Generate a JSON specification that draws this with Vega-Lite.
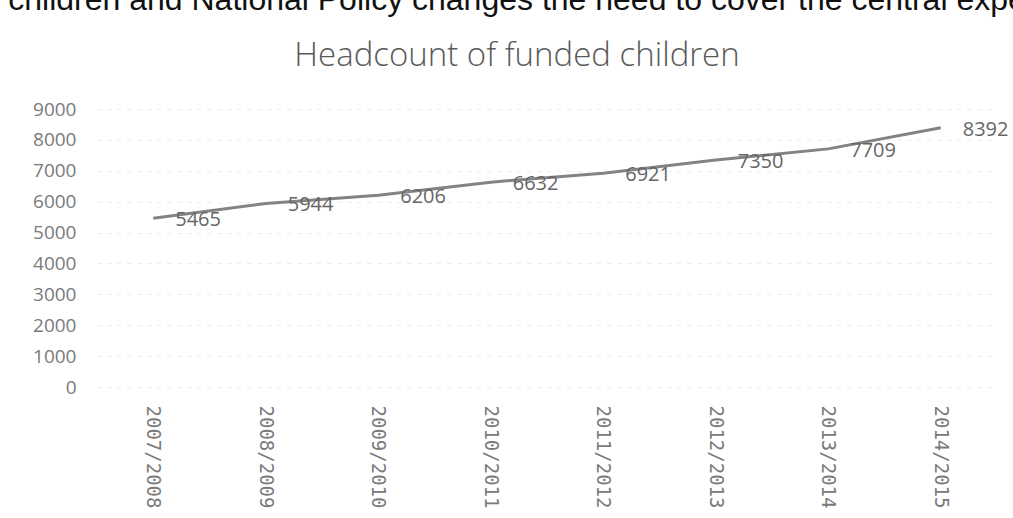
{
  "$schema": "https://vega.github.io/schema/vega-lite/v6.json",
  "width": 900,
  "height": 278,
  "autosize": {"type": "none"},
  "padding": {"left": 97, "top": 109, "right": 16, "bottom": 131},
  "background": "white",
  "title": {
    "text": "children and National Policy changes the need to cover the central expe",
    "subtitle": "Headcount of funded children",
    "anchor": "middle",
    "frame": "group",
    "dx": -30,
    "offset": 26,
    "font": "Liberation Sans",
    "fontSize": 32,
    "fontWeight": "normal",
    "color": "#111111",
    "subtitleFont": "Open Sans",
    "subtitleFontSize": 33,
    "subtitleFontWeight": 300,
    "subtitleColor": "#5a5a5a",
    "subtitlePadding": 23
  },
  "data": {
    "values": [
      {"year": "2007/2008", "count": 5465},
      {"year": "2008/2009", "count": 5944},
      {"year": "2009/2010", "count": 6206},
      {"year": "2010/2011", "count": 6632},
      {"year": "2011/2012", "count": 6921},
      {"year": "2012/2013", "count": 7350},
      {"year": "2013/2014", "count": 7709},
      {"year": "2014/2015", "count": 8392}
    ]
  },
  "config": {
    "view": {"stroke": null},
    "axis": {"domain": false, "ticks": false}
  },
  "encoding": {
    "x": {
      "field": "year",
      "type": "ordinal",
      "scale": {"type": "band", "paddingInner": 0, "paddingOuter": 0},
      "axis": {
        "title": null,
        "labelAngle": 90,
        "labelAlign": "left",
        "labelBaseline": "middle",
        "labelPadding": 18,
        "labelFont": "DejaVu Sans Mono",
        "labelFontSize": 19,
        "labelColor": "#7a7a7a",
        "grid": false
      }
    },
    "y": {
      "field": "count",
      "type": "quantitative",
      "scale": {"domain": [0, 9000], "nice": false},
      "axis": {
        "title": null,
        "values": [0, 1000, 2000, 3000, 4000, 5000, 6000, 7000, 8000, 9000],
        "format": "d",
        "labelPadding": 21,
        "labelFont": "Open Sans",
        "labelFontSize": 19,
        "labelColor": "#7a7a7a",
        "grid": true,
        "gridColor": "#ededed",
        "gridDash": [4, 6],
        "gridWidth": 1
      }
    }
  },
  "layer": [
    {
      "mark": {"type": "line", "color": "#838383", "strokeWidth": 3}
    },
    {
      "mark": {
        "type": "text",
        "align": "left",
        "baseline": "middle",
        "dx": 22,
        "dy": 2,
        "font": "Open Sans",
        "fontSize": 20,
        "color": "#666666"
      },
      "encoding": {"text": {"field": "count", "type": "quantitative", "format": "d"}}
    }
  ]
}
